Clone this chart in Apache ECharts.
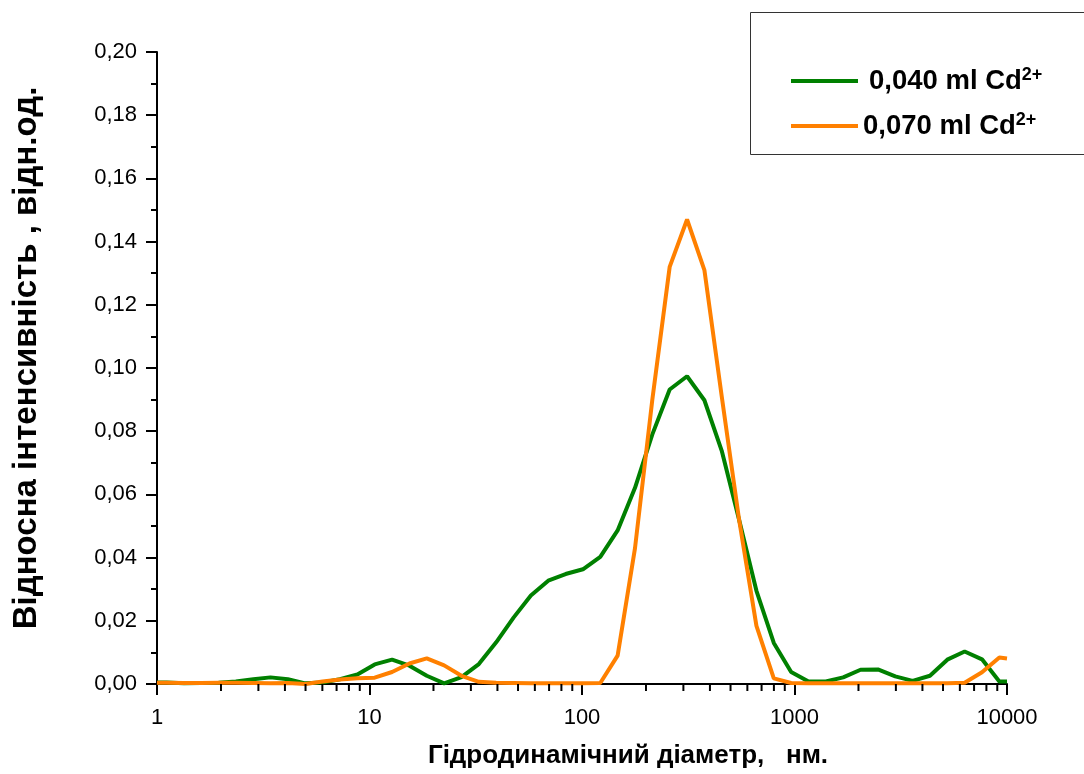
<!DOCTYPE html>
<html>
<head>
<meta charset="utf-8">
<script src="https://cdn.jsdelivr.net/npm/echarts@6/dist/echarts.min.js"></script>
<style>
html,body{margin:0;padding:0;background:#fff;}
#chart{width:1084px;height:774px;}
</style>
</head>
<body>
<div id="chart"></div>
<script>
// Hydrodynamic diameter (nm), log-spaced bins
var sizes = [1, 1.11, 1.34, 1.61, 1.95, 2.35, 2.84, 3.42, 4.13, 4.99, 6.02, 7.26, 8.77, 10.58, 12.77, 15.41, 18.6, 22.45, 27.09, 32.7, 39.46, 47.63, 57.46, 69.36, 83.7, 101, 121.9, 147.1, 177.6, 214.3, 258.6, 312.2, 376.7, 454.6, 548.6, 662.1, 799, 964.3, 1164, 1404, 1695, 2046, 2469, 2980, 3596, 4340, 5237, 6320, 7627, 9205, 10000];
// 0,040 ml Cd2+
var green040 = [0.0005, 0.0005, 0.0002, 0.0003, 0.0004, 0.0008, 0.0015, 0.0021, 0.0015, 0.0002, 0.0005, 0.0015, 0.0030, 0.0062, 0.0077, 0.0058, 0.0026, 0.0002, 0.0022, 0.0063, 0.0132, 0.0210, 0.0280, 0.0327, 0.0348, 0.0363, 0.0402, 0.0486, 0.0621, 0.0790, 0.0932, 0.0974, 0.0898, 0.0738, 0.0520, 0.0295, 0.0130, 0.0038, 0.0008, 0.0008, 0.0021, 0.0045, 0.0046, 0.0024, 0.0010, 0.0026, 0.0077, 0.0103, 0.0078, 0.0008, 0.0008];
// 0,070 ml Cd2+
var orange070 = [0.0004, 0.0004, 0.0003, 0.0003, 0.0004, 0.0004, 0.0003, 0.0002, 0.0003, 0.0000, 0.0008, 0.0014, 0.0018, 0.0020, 0.0038, 0.0065, 0.0081, 0.0059, 0.0026, 0.0007, 0.0004, 0.0003, 0.0002, 0.0002, 0.0002, 0.0002, 0.0003, 0.0090, 0.0430, 0.0900, 0.1320, 0.1470, 0.1310, 0.0910, 0.0520, 0.0184, 0.0018, 0.0003, 0.0002, 0.0002, 0.0002, 0.0002, 0.0002, 0.0002, 0.0002, 0.0002, 0.0002, 0.0004, 0.0037, 0.0084, 0.0081];

var seriesNames = ['0,040 ml Cd', '0,070 ml Cd'];
var superscript = '2+';
var xMinorTicks = [2, 3, 4, 5, 6, 7, 8, 9, 20, 30, 40, 50, 60, 70, 80, 90, 200, 300, 400, 500, 600, 700, 800, 900, 2000, 3000, 4000, 5000, 6000, 7000, 8000, 9000];
var xTitle = 'Гідродинамічний діаметр,   нм.';
var yTitle = 'Відносна інтенсивність , відн.од.';

function pairs(xs, ys) { return xs.map(function (x, i) { return [x, ys[i]]; }); }

var FONT = '"Liberation Sans", Arial, sans-serif';
var chart = echarts.init(document.getElementById('chart'), null, { renderer: 'canvas' });

var option = {
  backgroundColor: '#ffffff',
  animation: false,
  grid: { left: 157, top: 52, width: 850, height: 633, containLabel: false },
  xAxis: {
    type: 'log', logBase: 10, min: 1, max: 10000,
    name: xTitle, nameLocation: 'middle', nameGap: 59,
    nameTextStyle: { fontFamily: FONT, fontSize: 26, fontWeight: 'bold', color: '#000', padding: [0, 0, 0, 92] },
    axisLine: { show: true, onZero: false, lineStyle: { color: '#000', width: 2 } },
    axisTick: { show: true, inside: false, length: 11, lineStyle: { color: '#000', width: 2 } },
    minorTick: { show: false },
    splitLine: { show: false },
    minorSplitLine: { show: false },
    axisLabel: { margin: 23, fontFamily: FONT, fontSize: 22, color: '#000',
      formatter: function (v) { return String(Math.round(v)); } }
  },
  yAxis: {
    type: 'value', min: 0, max: 0.2, interval: 0.02,
    name: yTitle, nameLocation: 'middle', nameGap: 114, nameRotate: 90,
    nameTextStyle: { fontFamily: FONT, fontSize: 33, fontWeight: 'bold', color: '#000', padding: [0, 0, 0, 20] },
    axisLine: { show: true, onZero: false, lineStyle: { color: '#000', width: 2 } },
    axisTick: { show: true, inside: false, length: 11, lineStyle: { color: '#000', width: 2 } },
    minorTick: { show: true, splitNumber: 2, length: 6, lineStyle: { color: '#000', width: 2 } },
    splitLine: { show: false },
    axisLabel: { margin: 20, fontFamily: FONT, fontSize: 22, color: '#000',
      formatter: function (v) { return v.toFixed(2).replace('.', ','); } }
  },
  legend: {
    data: seriesNames,
    orient: 'vertical', left: 786, top: 61,
    icon: 'rect', itemWidth: 67, itemHeight: 4, itemGap: 13,
    selectedMode: false,
    formatter: function (name) {
      var k = name === seriesNames[0] ? 'a1' : 'a2';
      return '{' + k + '|' + name + '}{s|' + superscript + '}';
    },
    textStyle: {
      color: '#000',
      rich: {
        a1: { fontFamily: FONT, fontSize: 27.5, fontWeight: 'bold', color: '#000', lineHeight: 30, padding: [0, 0, 0, 6] },
        a2: { fontFamily: FONT, fontSize: 27.5, fontWeight: 'bold', color: '#000', lineHeight: 30, padding: [0, 0, 0, 0] },
        s: { fontFamily: FONT, fontSize: 18, fontWeight: 'bold', color: '#000', verticalAlign: 'top', lineHeight: 30, padding: [0, 0, 14, 0] }
      }
    }
  },
  graphic: [
    { type: 'rect', left: 748, top: 10, shape: { width: 345, height: 142 }, style: { fill: null, stroke: '#333', lineWidth: 1 }, z: 0 }
  ],
  series: [
    {
      name: seriesNames[0], type: 'line', data: pairs(sizes, green040),
      showSymbol: false, symbol: 'none', clip: true,
      lineStyle: { color: '#008000', width: 4 }, itemStyle: { color: '#008000' }, z: 3
    },
    {
      name: seriesNames[1], type: 'line', data: pairs(sizes, orange070),
      showSymbol: false, symbol: 'none', clip: true,
      lineStyle: { color: '#ff8000', width: 4 }, itemStyle: { color: '#ff8000' }, z: 4
    },
    {
      name: 'minorTicks', type: 'custom', clip: false, silent: true, z: 5,
      data: xMinorTicks.map(function (v) { return [v, 0]; }),
      renderItem: function (params, api) {
        var p = api.coord([api.value(0), 0]);
        return { type: 'line', shape: { x1: p[0], y1: p[1], x2: p[0], y2: p[1] + 7 }, style: { stroke: '#000', lineWidth: 2 } };
      }
    }
  ]
};
chart.setOption(option);
</script>
</body>
</html>
